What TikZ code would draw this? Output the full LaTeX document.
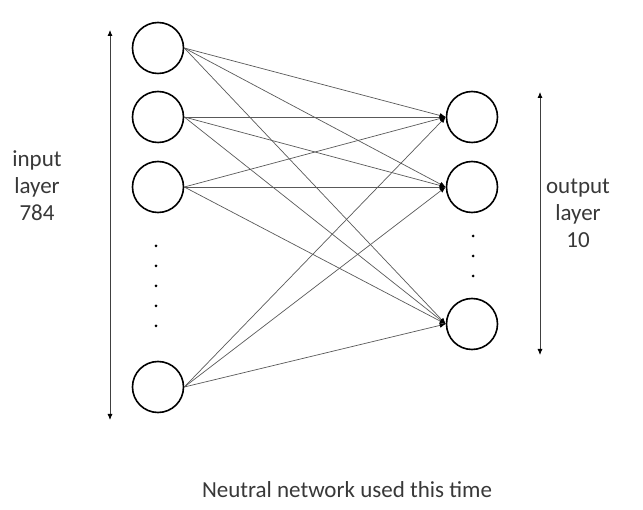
\documentclass[tikz,border=0pt]{standalone}
\usepackage{fontspec}
\setmainfont{Carlito}
\usetikzlibrary{arrows.meta}
\begin{document}
\begin{tikzpicture}[x=1pt,y=-1pt,
  neuron/.style={circle,draw=black,line width=1.6pt,minimum size=51pt,inner sep=0pt},
  conn/.style={draw=black!65,line width=0.7pt,-{Latex[length=6pt,width=5pt,color=black]}},
  dimarrow/.style={draw=black!75,line width=0.8pt,{Latex[length=6pt,width=5pt,color=black]}-{Latex[length=6pt,width=5pt,color=black]}},
  lbl/.style={font=\fontsize{23}{27}\selectfont,text=black!78,align=center},
  dotmark/.style={circle,fill=black,inner sep=0pt,minimum size=3pt}]
\useasboundingbox (0,0) rectangle (643,510);
\node[neuron] (i1) at (158,48) {};
\node[neuron] (i2) at (158,117) {};
\node[neuron] (i3) at (158,187) {};
\node[neuron] (i4) at (158,387) {};
\node[neuron] (o1) at (472,117) {};
\node[neuron] (o2) at (472,187) {};
\node[neuron] (o3) at (472,324) {};
\foreach \i in {1,2,3,4}{
  \foreach \o in {1,2,3}{
    \draw[conn] (i\i.east) -- (o\o.west);
  }
}
\foreach \y [count=\k] in {246,266,286,306,326}{
  \node[dotmark] (di\k) at (156,\y) {};
}
\foreach \y [count=\k] in {236,256,276}{
  \node[dotmark] (do\k) at (473,\y) {};
}
\coordinate (la) at (110,30);
\coordinate (lb) at (110,420);
\coordinate (ra) at (540,92);
\coordinate (rb) at (540,355);
\draw[dimarrow] (la) -- (lb);
\draw[dimarrow] (ra) -- (rb);
\node[lbl] (inlbl) at (37,186) {input\\layer\\784};
\node[lbl] (outlbl) at (578,213) {output\\layer\\10};
\node[lbl] (cap) at (347,490) {Neutral network used this time};
\end{tikzpicture}
\end{document}
